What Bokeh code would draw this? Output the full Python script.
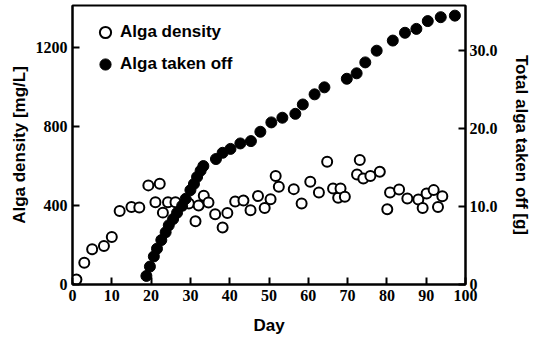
from bokeh.plotting import figure
from bokeh.models import Range1d, LinearAxis, FixedTicker, Legend, LegendItem
from bokeh.embed import file_html
from bokeh.resources import INLINE

# Alga density [mg/L] (open circles, left axis)
density_day = [1, 3, 5, 8, 10, 12, 15, 17, 19.3, 21.1, 22.2, 23, 24.3, 26.2, 29.6,
               31.3, 32.1, 33.4, 34.6, 36.3, 38.2, 39.4, 41.4, 43.5, 45.3, 47.2,
               48.9, 50.4, 51.7, 52.5, 56.3, 58.3, 60.5, 62.7, 64.8, 66.3, 67.6,
               68.2, 69.3, 72.4, 73.1, 74.0, 75.8, 78.2, 80.1, 80.8, 83.1, 85.2,
               88.0, 89.1, 90.1, 91.9, 93.0, 94.1]
density_val = [25, 110, 178, 195, 240, 372, 393, 390, 502, 416, 510, 364, 416, 416, 410,
               320, 400, 450, 415, 356, 289, 362, 420, 425, 376, 448,
               388, 432, 550, 495, 483, 410, 520, 466, 622, 486, 439,
               486, 444, 557, 630, 537, 549, 571, 381, 466, 481, 436,
               430, 388, 461, 478, 393, 447]

# Total alga taken off [g] (filled circles, right axis)
taken_day = [18.8, 19.7, 20.7, 21.5, 22.6, 23.7, 24.5, 25.6, 26.6, 27.9, 28.8, 30.0,
             30.9, 31.7, 32.6, 33.3, 36.5, 38.2, 40.2, 42.7, 45.4, 47.8, 50.6, 53.4,
             56.7, 58.6, 61.6, 64.1, 69.8, 72.3, 74.5, 77.4, 81.5, 84.6, 87.5, 90.4,
             93.7, 97.3]
taken_val = [1.1, 2.3, 3.6, 4.6, 5.7, 6.7, 7.6, 8.4, 9.2, 10.1, 11.0, 12.1,
             12.9, 13.8, 14.6, 15.2, 16.1, 16.9, 17.4, 18.1, 18.4, 19.6, 20.8, 21.4,
             21.9, 23.1, 24.4, 25.3, 26.4, 27.1, 28.5, 30.0, 31.3, 32.3, 32.8, 33.8,
             34.3, 34.5]

x_ticks = [0, 10, 20, 30, 40, 50, 60, 70, 80, 90, 100]
left_ticks = [0, 400, 800, 1200]
right_ticks = [0, 10, 20, 30]
right_tick_labels = ["0", "10.0", "20.0", "30.0"]

TICK_FONT = "Liberation Sans Narrow"
LABEL_FONT = "Liberation Sans"

p = figure(width=533, height=338, output_backend="svg", toolbar_location=None,
           x_range=Range1d(0, 100), y_range=Range1d(0, 1413),
           min_border_left=72, min_border_right=67, min_border_top=5,
           min_border_bottom=54)
p.extra_y_ranges = {"taken": Range1d(0, 35.8)}

p.xgrid.visible = False
p.ygrid.visible = False
p.outline_line_color = "black"
p.outline_line_width = 2
p.background_fill_color = "white"
p.border_fill_color = "white"

r_density = p.scatter(density_day, density_val, size=10, marker="circle",
                      fill_color="white", line_color="black", line_width=2)
r_taken = p.scatter(taken_day, taken_val, size=11, marker="circle",
                    fill_color="black", line_color="black", line_width=1,
                    y_range_name="taken")

right_axis = LinearAxis(y_range_name="taken")
p.add_layout(right_axis, "right")


def style_axis(ax, ticks, standoff):
    ax.ticker = FixedTicker(ticks=ticks)
    ax.axis_line_width = 2
    ax.axis_line_color = "black"
    ax.major_tick_in = 7
    ax.major_tick_out = 0
    ax.major_tick_line_width = 2
    ax.minor_tick_line_color = None
    ax.major_label_text_font = TICK_FONT
    ax.major_label_text_font_style = "bold"
    ax.major_label_text_font_size = "16px"
    ax.major_label_text_color = "black"
    ax.major_label_standoff = standoff
    ax.axis_label_text_font = LABEL_FONT
    ax.axis_label_text_font_style = "bold"
    ax.axis_label_text_font_size = "17px"
    ax.axis_label_text_color = "black"


style_axis(p.xaxis[0], x_ticks, 5)
style_axis(p.yaxis[0], left_ticks, 5)
style_axis(right_axis, right_ticks, 4)
right_axis.major_label_overrides = {t: s for t, s in zip(right_ticks, right_tick_labels)}

p.xaxis[0].axis_label = "Day"
p.xaxis[0].axis_label_standoff = 12
p.yaxis[0].axis_label = "Alga density [mg/L]"
p.yaxis[0].axis_label_standoff = 4
right_axis.axis_label = "Total alga taken off [g]"
right_axis.axis_label_standoff = 11

legend = Legend(items=[LegendItem(label="Alga density", renderers=[r_density]),
                       LegendItem(label="Alga taken off", renderers=[r_taken])],
                location=(19, 206), orientation="vertical",
                glyph_width=28, glyph_height=28, label_height=28,
                label_standoff=1, spacing=4, padding=0, margin=0,
                border_line_color=None, background_fill_alpha=0,
                label_text_font=LABEL_FONT, label_text_font_style="bold",
                label_text_font_size="17px", label_text_color="black")
p.add_layout(legend, "center")

open("out.html", "w").write(file_html(p, INLINE))
